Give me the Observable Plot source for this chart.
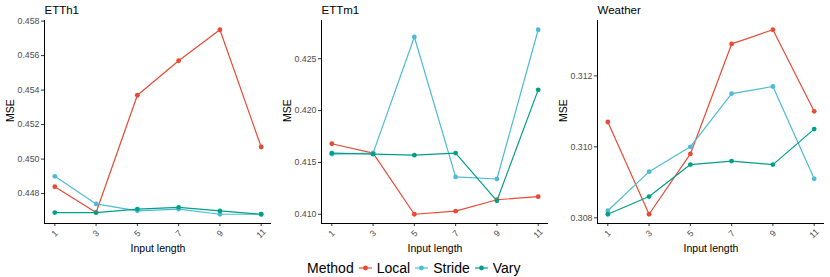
<!DOCTYPE html>
<html><head><meta charset="utf-8">
<script src="https://cdn.jsdelivr.net/npm/d3@7"></script>
<script src="https://cdn.jsdelivr.net/npm/@observablehq/plot@0.6"></script>
<style>
body{margin:0;background:#fff;font-family:"Liberation Sans",Arial,sans-serif;}
#wrap{position:relative;width:830px;height:277px;overflow:hidden;}
.panel{position:absolute;top:0;}
#legend{position:absolute;top:259px;left:307px;display:flex;align-items:center;font-size:14px;line-height:18px;color:#000;}
#legend .key{margin:0 4px 0 4px;display:block;}
</style></head>
<body>
<div id="wrap"></div>
<script>
// ---- data ----
const inputLengths = [1, 3, 5, 7, 9, 11];
const datasets = ["ETTh1", "ETTm1", "Weather"];
const methods = ["Local", "Stride", "Vary"];
const methodColors = ["#E64B35", "#4DBBD5", "#00A087"];

const etth1Local  = [0.4484, 0.4469, 0.4537, 0.4557, 0.4575, 0.4507];
const etth1Stride = [0.4490, 0.4474, 0.4470, 0.4471, 0.4468, 0.4468];
const etth1Vary   = [0.4469, 0.4469, 0.4471, 0.4472, 0.4470, 0.4468];

const ettm1Local  = [0.4168, 0.4159, 0.4100, 0.4103, 0.4114, 0.4117];
const ettm1Stride = [0.4158, 0.4159, 0.4271, 0.4136, 0.4134, 0.4278];
const ettm1Vary   = [0.4159, 0.4158, 0.4157, 0.4159, 0.4113, 0.4220];

const weatherLocal  = [0.3107, 0.3081, 0.3098, 0.3129, 0.3133, 0.3110];
const weatherStride = [0.3082, 0.3093, 0.3100, 0.3115, 0.3117, 0.3091];
const weatherVary   = [0.3081, 0.3086, 0.3095, 0.3096, 0.3095, 0.3105];

const etth1Ticks   = [0.448, 0.450, 0.452, 0.454, 0.456, 0.458];
const ettm1Ticks   = [0.410, 0.415, 0.420, 0.425];
const weatherTicks = [0.308, 0.310, 0.312];

const xLabel = "Input length";
const yLabel = "MSE";
const legendTitle = "Method";

// ---- build ----
const series = {
  ETTh1:   [etth1Local, etth1Stride, etth1Vary],
  ETTm1:   [ettm1Local, ettm1Stride, ettm1Vary],
  Weather: [weatherLocal, weatherStride, weatherVary]
};
const ticksBy = {ETTh1: etth1Ticks, ETTm1: ettm1Ticks, Weather: weatherTicks};
const lefts = [0, 277, 553];

function pad(ext) { const r = ext[1] - ext[0]; return [ext[0] - 0.05 * r, ext[1] + 0.05 * r]; }

const wrap = document.getElementById("wrap");
const font = '"Liberation Sans", Arial, sans-serif';

datasets.forEach((name, i) => {
  const rows = [];
  series[name].forEach((vals, m) => vals.forEach((v, k) => rows.push({method: methods[m], x: inputLengths[k], y: v})));
  const xDom = pad(d3.extent(inputLengths));
  const yDom = pad(d3.extent(rows, d => d.y));
  const chart = Plot.plot({
    width: 277, height: 258,
    marginTop: 20, marginBottom: 35, marginLeft: 44, marginRight: 6,
    style: {fontFamily: font, background: "white", overflow: "visible"},
    x: {domain: xDom},
    y: {domain: yDom},
    color: {domain: methods, range: methodColors},
    marks: [
      Plot.axisY({ticks: ticksBy[name], tickFormat: d3.format(".3f"), tickSize: 3, tickPadding: 2, fontSize: 8.8, fill: "#4d4d4d", stroke: "#333", label: null}),
      Plot.axisX({ticks: inputLengths, tickSize: 3, text: null, stroke: "#333", label: null}),
      Plot.text(inputLengths, {x: d => d, frameAnchor: "bottom", dy: 10, rotate: -45, text: d => String(d), fontSize: 8.8, fill: "#4d4d4d", textAnchor: "middle", lineAnchor: "middle"}),
      Plot.text([xLabel], {frameAnchor: "bottom", dy: 25, fontSize: 10.5, fill: "#000", lineAnchor: "middle"}),
      Plot.text([yLabel], {frameAnchor: "left", dx: -34, rotate: -90, fontSize: 10.5, fill: "#000", lineAnchor: "middle"}),
      Plot.text([name], {frameAnchor: "top-left", dy: -10, textAnchor: "start", fontSize: 11.5, fill: "#000", lineAnchor: "middle"}),
      Plot.ruleX([xDom[0]], {stroke: "#000", strokeWidth: 1}),
      Plot.ruleY([yDom[0]], {stroke: "#000", strokeWidth: 1}),
      Plot.line(rows, {x: "x", y: "y", z: "method", stroke: "method", strokeWidth: 1.2}),
      Plot.dot(rows, {x: "x", y: "y", fill: "method", r: 2.4})
    ]
  });
  chart.classList.add("panel");
  chart.style.left = lefts[i] + "px";
  wrap.appendChild(chart);
});

// legend
const legend = document.createElement("div");
legend.id = "legend";
const t = document.createElement("span");
t.textContent = legendTitle;
legend.appendChild(t);
methods.forEach((m, i) => {
  const ns = "http://www.w3.org/2000/svg";
  const svg = document.createElementNS(ns, "svg");
  svg.setAttribute("width", 15); svg.setAttribute("height", 14);
  svg.setAttribute("class", "key");
  const ln = document.createElementNS(ns, "line");
  ln.setAttribute("x1", 1); ln.setAttribute("x2", 14); ln.setAttribute("y1", 7); ln.setAttribute("y2", 7);
  ln.setAttribute("stroke", methodColors[i]); ln.setAttribute("stroke-width", 1.2);
  const c = document.createElementNS(ns, "circle");
  c.setAttribute("cx", 7.5); c.setAttribute("cy", 7); c.setAttribute("r", 2.4); c.setAttribute("fill", methodColors[i]);
  svg.appendChild(ln); svg.appendChild(c);
  legend.appendChild(svg);
  const s = document.createElement("span");
  s.textContent = m;
  legend.appendChild(s);
});
wrap.appendChild(legend);
</script>
</body></html>
